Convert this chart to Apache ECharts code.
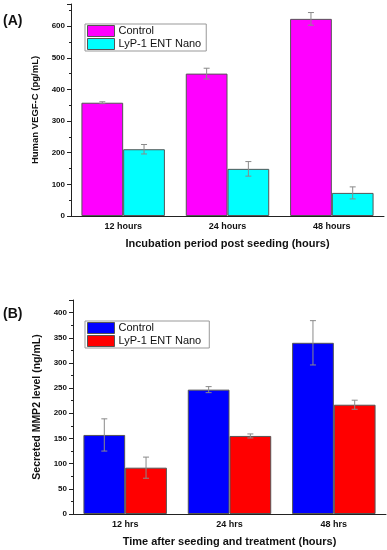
<!DOCTYPE html>
<html>
<head>
<meta charset="utf-8">
<script src="https://cdn.jsdelivr.net/npm/echarts@6/dist/echarts.min.js"></script>
<style>html,body{margin:0;padding:0;background:#fff;}#c{width:387px;height:550px;}</style>
</head>
<body>
<div id="c"></div>
<script>
// ---- Data ----
const catsA = ['12 hours', '24 hours', '48 hours'];
const controlA = [358, 450, 623];
const controlAErr = [3, 17, 20];
const nanoA = [211, 149, 73];
const nanoAErr = [15, 23, 19];

const catsB = ['12 hrs', '24 hrs', '48 hrs'];
const controlB = [157, 247, 340];
const controlBErr = [32, 6, 44];
const nanoB = [92, 155, 217];
const nanoBErr = [21, 4, 9];

const seriesNames = ['Control', 'LyP-1 ENT Nano'];

// ---- Styles ----
const FONT = 'Arial, "Liberation Sans", sans-serif';
const GAP = 0.2;

function errSeries(vals, errs, side, xi, yi) {
  return {
    type: 'custom',
    xAxisIndex: xi, yAxisIndex: yi,
    z: 10,
    silent: true,
    data: vals.map((v, i) => [i, v, errs[i]]),
    encode: { x: 0, y: 1 },
    renderItem: function (params, api) {
      const i = api.value(0), v = api.value(1), e = api.value(2);
      const band = api.size([1, 0])[0];
      const bw = band * (1 - GAP) / 2;
      const top = api.coord([i, v + e]);
      const bot = api.coord([i, v - e]);
      const x = top[0] + side * bw / 2;
      const cap = 3;
      const st = { stroke: '#8a8a8a', lineWidth: 1 };
      return { type: 'group', children: [
        { type: 'line', shape: { x1: x, y1: top[1], x2: x, y2: bot[1] }, style: st },
        { type: 'line', shape: { x1: x - cap, y1: top[1], x2: x + cap, y2: top[1] }, style: st },
        { type: 'line', shape: { x1: x - cap, y1: bot[1], x2: x + cap, y2: bot[1] }, style: st }
      ]};
    }
  };
}

function xAxes(cats, gi, title) {
  return [
    {
      type: 'category', gridIndex: gi, data: cats, position: 'bottom',
      axisLine: { lineStyle: { color: '#222', width: 1 } },
      axisTick: { alignWithLabel: true, length: 4, lineStyle: { color: '#222' } },
      axisLabel: { color: '#111', fontFamily: FONT, fontWeight: 'bold', fontSize: 9, margin: 6 },
      name: title, nameLocation: 'middle', nameGap: 22,
      nameTextStyle: { color: '#111', fontFamily: FONT, fontWeight: 'bold', fontSize: 11 }
    },
    {
      type: 'category', gridIndex: gi, data: cats, position: 'bottom',
      axisLine: { show: false },
      axisTick: { inside: true, length: 3, lineStyle: { color: '#222' } },
      axisLabel: { show: false }
    }
  ];
}

function yAxis(gi, max, interval, title, fs) {
  return {
    type: 'value', gridIndex: gi, min: 0, max: max, interval: interval,
    axisLine: { show: true, lineStyle: { color: '#222', width: 1 } },
    axisTick: { show: true, length: 4, lineStyle: { color: '#222' } },
    minorTick: { show: true, splitNumber: 2, length: 2, lineStyle: { color: '#222' } },
    splitLine: { show: false },
    axisLabel: { color: '#111', fontFamily: FONT, fontWeight: 'bold', fontSize: 8, margin: 6, showMaxLabel: false },
    name: title, nameLocation: 'middle', nameGap: 28,
    nameTextStyle: { color: '#111', fontFamily: FONT, fontWeight: 'bold', fontSize: fs }
  };
}

function bar(name, vals, color, xi, yi) {
  return {
    type: 'bar', name: name, data: vals, xAxisIndex: xi, yAxisIndex: yi,
    barGap: 0, barCategoryGap: (GAP * 100) + '%',
    itemStyle: { color: color, borderColor: '#555', borderWidth: 1 }
  };
}

function legend(top, names, colors) {
  return {
    left: 85, top: top, orient: 'vertical',
    data: names.map((n, i) => ({ name: n, itemStyle: { color: colors[i], borderColor: '#555', borderWidth: 1 } })),
    itemWidth: 27, itemHeight: 11, itemGap: 1, padding: [1, 5, 1, 2],
    borderColor: '#999', borderWidth: 1,
    textStyle: { color: '#111', fontFamily: FONT, fontSize: 11, padding: [0, 0, 0, -1] },
    icon: 'rect',
    selectedMode: false
  };
}

const chart = echarts.init(document.getElementById('c'), null, { renderer: 'canvas' });

const namesB = seriesNames.map(n => n + ' ');

const option = {
  animation: false,
  backgroundColor: '#fff',
  grid: [
    { left: 71, right: 3, top: 4, bottom: 334 },
    { left: 73, right: 1, top: 300, bottom: 36 }
  ],
  xAxis: [].concat(
    xAxes(catsA, 0, 'Incubation period post seeding (hours)'),
    xAxes(catsB, 1, 'Time after seeding and treatment (hours)')
  ),
  yAxis: [
    yAxis(0, 670, 100, 'Human VEGF-C (pg/mL)', 9.5),
    yAxis(1, 425, 50, 'Secreted MMP2 level (ng/mL)', 10.5)
  ],
  legend: [
    legend(24, seriesNames, ['#FF00FF', '#00FFFF']),
    legend(321, namesB, ['#0000FF', '#FF0000'])
  ],
  graphic: [
    { type: 'text', left: 3, top: 14, style: { text: '(A)', fontFamily: FONT, fontWeight: 'bold', fontSize: 14, fill: '#111' } },
    { type: 'text', left: 3, top: 307, style: { text: '(B)', fontFamily: FONT, fontWeight: 'bold', fontSize: 14, fill: '#111' } }
  ],
  series: [
    bar(seriesNames[0], controlA, '#FF00FF', 0, 0),
    bar(seriesNames[1], nanoA, '#00FFFF', 0, 0),
    errSeries(controlA, controlAErr, -1, 0, 0),
    errSeries(nanoA, nanoAErr, 1, 0, 0),
    bar(namesB[0], controlB, '#0000FF', 2, 1),
    bar(namesB[1], nanoB, '#FF0000', 2, 1),
    errSeries(controlB, controlBErr, -1, 2, 1),
    errSeries(nanoB, nanoBErr, 1, 2, 1)
  ]
};
chart.setOption(option);
</script>
</body>
</html>
